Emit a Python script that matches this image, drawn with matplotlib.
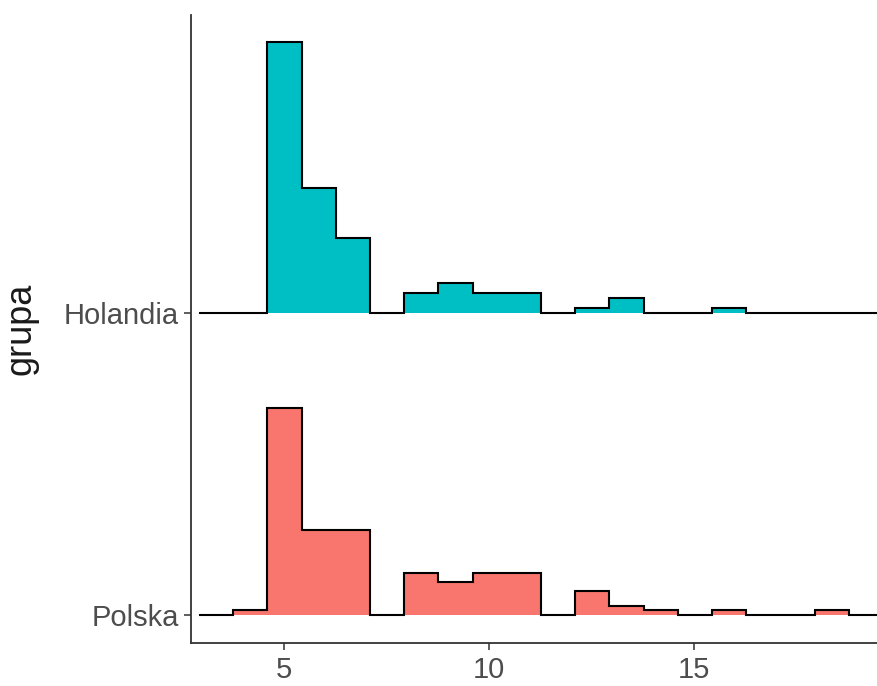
import numpy as np
import matplotlib
matplotlib.use("Agg")
import matplotlib.pyplot as plt

plt.rcParams['font.family'] = ['Liberation Sans', 'DejaVu Sans']

groups = ["Polska", "Holandia"]
colors = ["#F8766D", "#00BFC4"]
bin_start = 2.925
bin_width = 0.834
counts_polska = [0, 1, 44, 18, 18, 0, 9, 7, 9, 9, 0, 5, 2, 1, 0, 1, 0, 0, 1, 0]
counts_holandia = [0, 0, 54, 25, 15, 0, 4, 6, 4, 4, 0, 1, 3, 0, 0, 1, 0, 0, 0, 0]
x_ticks = [5, 10, 15]
scale = 1.95

fig = plt.figure(figsize=(8.77, 6.86), dpi=100)
ax = fig.add_axes([191/877, 43/686, (877-191)/877, (643-15)/686])

n_bins = len(counts_polska)
edges = bin_start + bin_width * np.arange(n_bins + 1)

for gi, (counts, col) in enumerate(zip([counts_polska, counts_holandia], colors)):
    c = np.asarray(counts, float)
    dens = c / c.sum() * scale
    ax.stairs(gi + dens, edges, baseline=gi, fill=True, color=col, lw=0, zorder=2)
    ax.stairs(gi + dens, edges, baseline=None, fill=False, color="black", lw=1.5, zorder=3)

ax.set_xlim(2.73, 19.46)
ax.set_ylim(-0.0928, 1.989)
ax.set_yticks([0, 1])
ax.set_yticklabels(groups)
ax.set_xticks(x_ticks)
ax.set_xticklabels([str(t) for t in x_ticks])

for s in ["top", "right"]:
    ax.spines[s].set_visible(False)
for s in ["left", "bottom"]:
    ax.spines[s].set_color("#333333")
    ax.spines[s].set_linewidth(1.3)

ax.tick_params(axis="both", colors="#333333", length=5, width=1.1,
               labelsize=21, labelcolor="#4D4D4D", pad=4)
ax.set_ylabel("grupa", fontsize=26, color="#1A1A1A", labelpad=18)

fig.savefig("out.png", dpi=100)
